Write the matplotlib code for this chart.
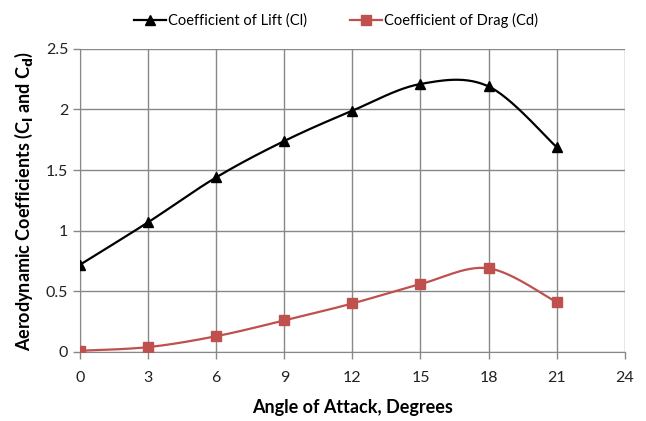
import numpy as np
import matplotlib
matplotlib.use("Agg")
import matplotlib.pyplot as plt

# data
angle = [0, 3, 6, 9, 12, 15, 18, 21]
lift = [0.72, 1.07, 1.44, 1.74, 1.99, 2.21, 2.19, 1.69]
drag = [0.01, 0.04, 0.13, 0.26, 0.40, 0.56, 0.69, 0.41]
xticks = [0, 3, 6, 9, 12, 15, 18, 21, 24]
yticks = [0, 0.5, 1, 1.5, 2, 2.5]
ytick_labels = ["0", "0.5", "1", "1.5", "2", "2.5"]


def smooth(x, y, n=30):
    # Excel-style smoothed line: cubic bezier with catmull-rom control points
    x = np.asarray(x, float)
    y = np.asarray(y, float)
    px = np.concatenate([[x[0]], x, [x[-1]]])
    py = np.concatenate([[y[0]], y, [y[-1]]])
    t = np.linspace(0, 1, n)
    xs, ys = [], []
    for i in range(len(x) - 1):
        p0 = np.array([px[i + 1], py[i + 1]])
        p3 = np.array([px[i + 2], py[i + 2]])
        c1 = p0 + (p3 - np.array([px[i], py[i]])) / 6.0
        c2 = p3 - (np.array([px[i + 3], py[i + 3]]) - p0) / 6.0
        for tt in t:
            b = ((1 - tt) ** 3) * p0 + 3 * ((1 - tt) ** 2) * tt * c1 + 3 * (1 - tt) * tt ** 2 * c2 + tt ** 3 * p3
            xs.append(b[0])
            ys.append(b[1])
    return xs, ys


plt.rcParams['font.family'] = ['Lato', 'DejaVu Sans']

fig = plt.figure(figsize=(6.46, 4.21), dpi=100)
ax = fig.add_axes([0.124, 0.164, 0.843, 0.72])

red = '#c0504d'
lx, ly = smooth(angle, lift)
dx, dy = smooth(angle, drag)
ax.plot(lx, ly, color='black', lw=1.6, zorder=3)
ax.plot(dx, dy, color=red, lw=1.6, zorder=3)
ax.plot(angle, lift, ls='none', marker='^', ms=7, color='black', zorder=4)
ax.plot(angle, drag, ls='none', marker='s', ms=7, color=red, zorder=4)

# legend proxies
h1, = ax.plot([], [], color='black', lw=1.6, marker='^', ms=7, label='Coefficient of Lift (Cl)')
h2, = ax.plot([], [], color=red, lw=1.6, marker='s', ms=7, label='Coefficient of Drag (Cd)')
fig.legend(handles=[h1, h2], loc='upper center', bbox_to_anchor=(0.52, 1.0), ncol=2,
           frameon=False, fontsize=10.5, handlelength=2.2, handletextpad=0.1, columnspacing=3.0)

ax.set_xlim(0, 24)
ax.set_ylim(0, 2.5)
ax.set_xticks(xticks)
ax.set_yticks(yticks)
ax.set_yticklabels(ytick_labels)
ax.grid(True, color='#888888', lw=1.0)
ax.set_axisbelow(True)
for s in ax.spines.values():
    s.set_visible(False)
ax.spines['left'].set_visible(True)
ax.spines['bottom'].set_visible(True)
ax.spines['left'].set_color('#888888')
ax.spines['bottom'].set_color('#888888')
ax.tick_params(axis='both', colors='#888888', labelcolor='#222222', labelsize=11.5, length=5, width=1.0)
ax.tick_params(axis='x', pad=9)

ax.set_xlabel('Angle of Attack, Degrees', fontsize=13, fontweight='bold', labelpad=10)
ax.set_ylabel('Aerodynamic Coefficients (C$_\\mathbf{l}$ and C$_\\mathbf{d}$)', fontsize=13,
              fontweight='bold', labelpad=8)

fig.savefig('out.png', dpi=100)
